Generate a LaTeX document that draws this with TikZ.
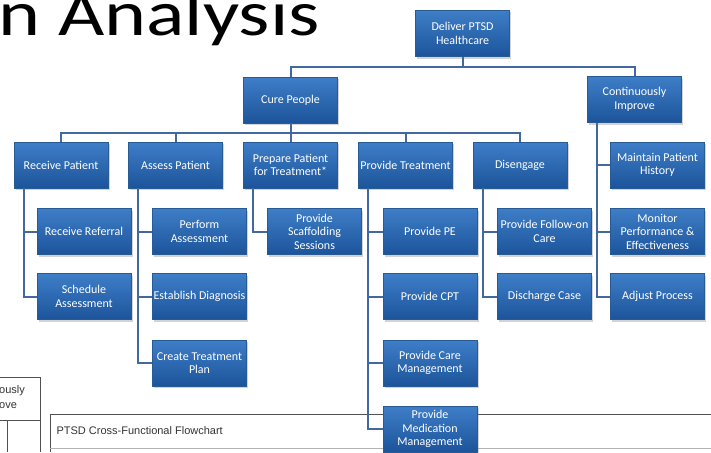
\documentclass[tikz,border=0pt]{standalone}
\usepackage{fontspec}
\setmainfont{Carlito}
\newfontfamily\titlefont[FakeStretch=1.25]{Carlito}
\newfontfamily\chartfont{Liberation Sans}
\usetikzlibrary{shadows}
\definecolor{boxtop}{RGB}{62,126,200}
\definecolor{boxbottom}{RGB}{28,84,154}
\definecolor{boxline}{RGB}{40,90,150}
\definecolor{wirecolor}{RGB}{65,105,160}
\definecolor{framegray}{RGB}{80,80,80}

\begin{document}
\begin{tikzpicture}[
    x=1pt, y=-1pt,
    every node/.append style = {font=\fontsize{12}{13.5}\selectfont},
    task/.style = {rectangle, draw=boxline, line width=0.4pt,
      top color=boxtop, bottom color=boxbottom, text=white, align=center,
      minimum width=94pt, minimum height=46pt, inner sep=0pt,
      drop shadow={shadow xshift=1.5pt, shadow yshift=-2pt, opacity=0.35}},
    wire/.style = {draw=wirecolor, line width=2pt}
  ]
 \useasboundingbox (0,0) rectangle (711,452);

 % slide title, cut off at the left
 \node[anchor=base west, inner sep=0pt] (title) at (-2,36)
   {\titlefont\fontsize{64}{64}\selectfont n Analysis};

 % flowchart sheet behind the tree
 \draw[framegray, line width=0.8pt] (50,452) -- (50,414) -- (711,414);
 \draw[gray!60, line width=0.8pt] (50,448) -- (711,448);
 \node[anchor=west, text=black!80, font=\chartfont\fontsize{11}{13}\selectfont]
   (charttitle) at (53,431) {PTSD Cross-Functional Flowchart};

 % left pane, cut off
 \draw[framegray, line width=0.8pt] (0,377) -- (40,377) -- (40,452);
 \draw[framegray, line width=0.8pt] (0,420) -- (40,420);
 \draw[framegray, line width=0.8pt] (7,420) -- (7,452);
 \node[anchor=west, inner sep=0pt, text=black!80, font=\chartfont\fontsize{11}{13}\selectfont]
   (ously) at (-1,391) {ously};
 \node[anchor=west, inner sep=0pt, text=black!80, font=\chartfont\fontsize{11}{13}\selectfont]
   (ove) at (-1,406) {ove};

 % top levels
 \node[task] (deliver) at (462.5,33.5) {Deliver PTSD\\Healthcare};
 \node[task] (cure) at (290.5,100) {Cure People};
 \node[task] (improve) at (634.5,99.5) {Continuously\\Improve};

 \node[task] (receive) at (61,165) {Receive Patient};
 \node[task] (assess) at (175.5,165) {Assess Patient};
 \node[task] (prepare) at (290.5,165) {Prepare Patient\\for Treatment*};
 \node[task] (treat) at (405.5,165) {Provide Treatment};
 \node[task] (disengage) at (520,165) {Disengage};
 \node[task] (maintain) at (657.5,165) {Maintain Patient\\History};

 % leaves
 \node[task] (referral) at (84,231.5) {Receive Referral};
 \node[task] (schedule) at (84,296.5) {Schedule\\Assessment};
 \node[task] (perform) at (199.5,231.5) {Perform\\Assessment};
 \node[task] (diagnosis) at (199.5,296.5) {Establish Diagnosis};
 \node[task] (plan) at (199.5,363) {Create Treatment\\Plan};
 \node[task] (scaffold) at (314.5,231.5) {Provide\\Scaffolding\\Sessions};
 \node[task] (pe) at (430,231.5) {Provide PE};
 \node[task] (cpt) at (430,296.5) {Provide CPT};
 \node[task] (care) at (430,363) {Provide Care\\Management};
 \node[task] (medication) at (430,429) {Provide\\Medication\\Management};
 \node[task] (followon) at (544.5,231.5) {Provide Follow-on\\Care};
 \node[task] (discharge) at (544.5,296.5) {Discharge Case};
 \node[task] (monitor) at (657.5,231.5) {Monitor\\Performance \&\\Effectiveness};
 \node[task] (adjust) at (657.5,296.5) {Adjust Process};

 % connectors
 \draw[wire] (deliver.south) -- ++(0,10) coordinate (topbus);
 \draw[wire] (cure.north) |- (topbus) -| (improve.north);
 \draw[wire] (cure.south) -- ++(0,10) coordinate (midbus);
 \draw[wire] (receive.north) |- (midbus) -| (disengage.north);
 \draw[wire] (midbus) -- (prepare.north);
 \foreach \n in {assess, treat}
   \draw[wire] (\n.north) -- (\n.north |- midbus);
 \foreach \p/\c in {receive/referral, receive/schedule, assess/perform,
     assess/diagnosis, assess/plan, prepare/scaffold, treat/pe, treat/cpt,
     treat/care, treat/medication, disengage/followon, disengage/discharge,
     improve/maintain, improve/monitor, improve/adjust}
   \draw[wire] ([xshift=10pt]\p.south west) |- (\c.west);
\end{tikzpicture}
\end{document}
